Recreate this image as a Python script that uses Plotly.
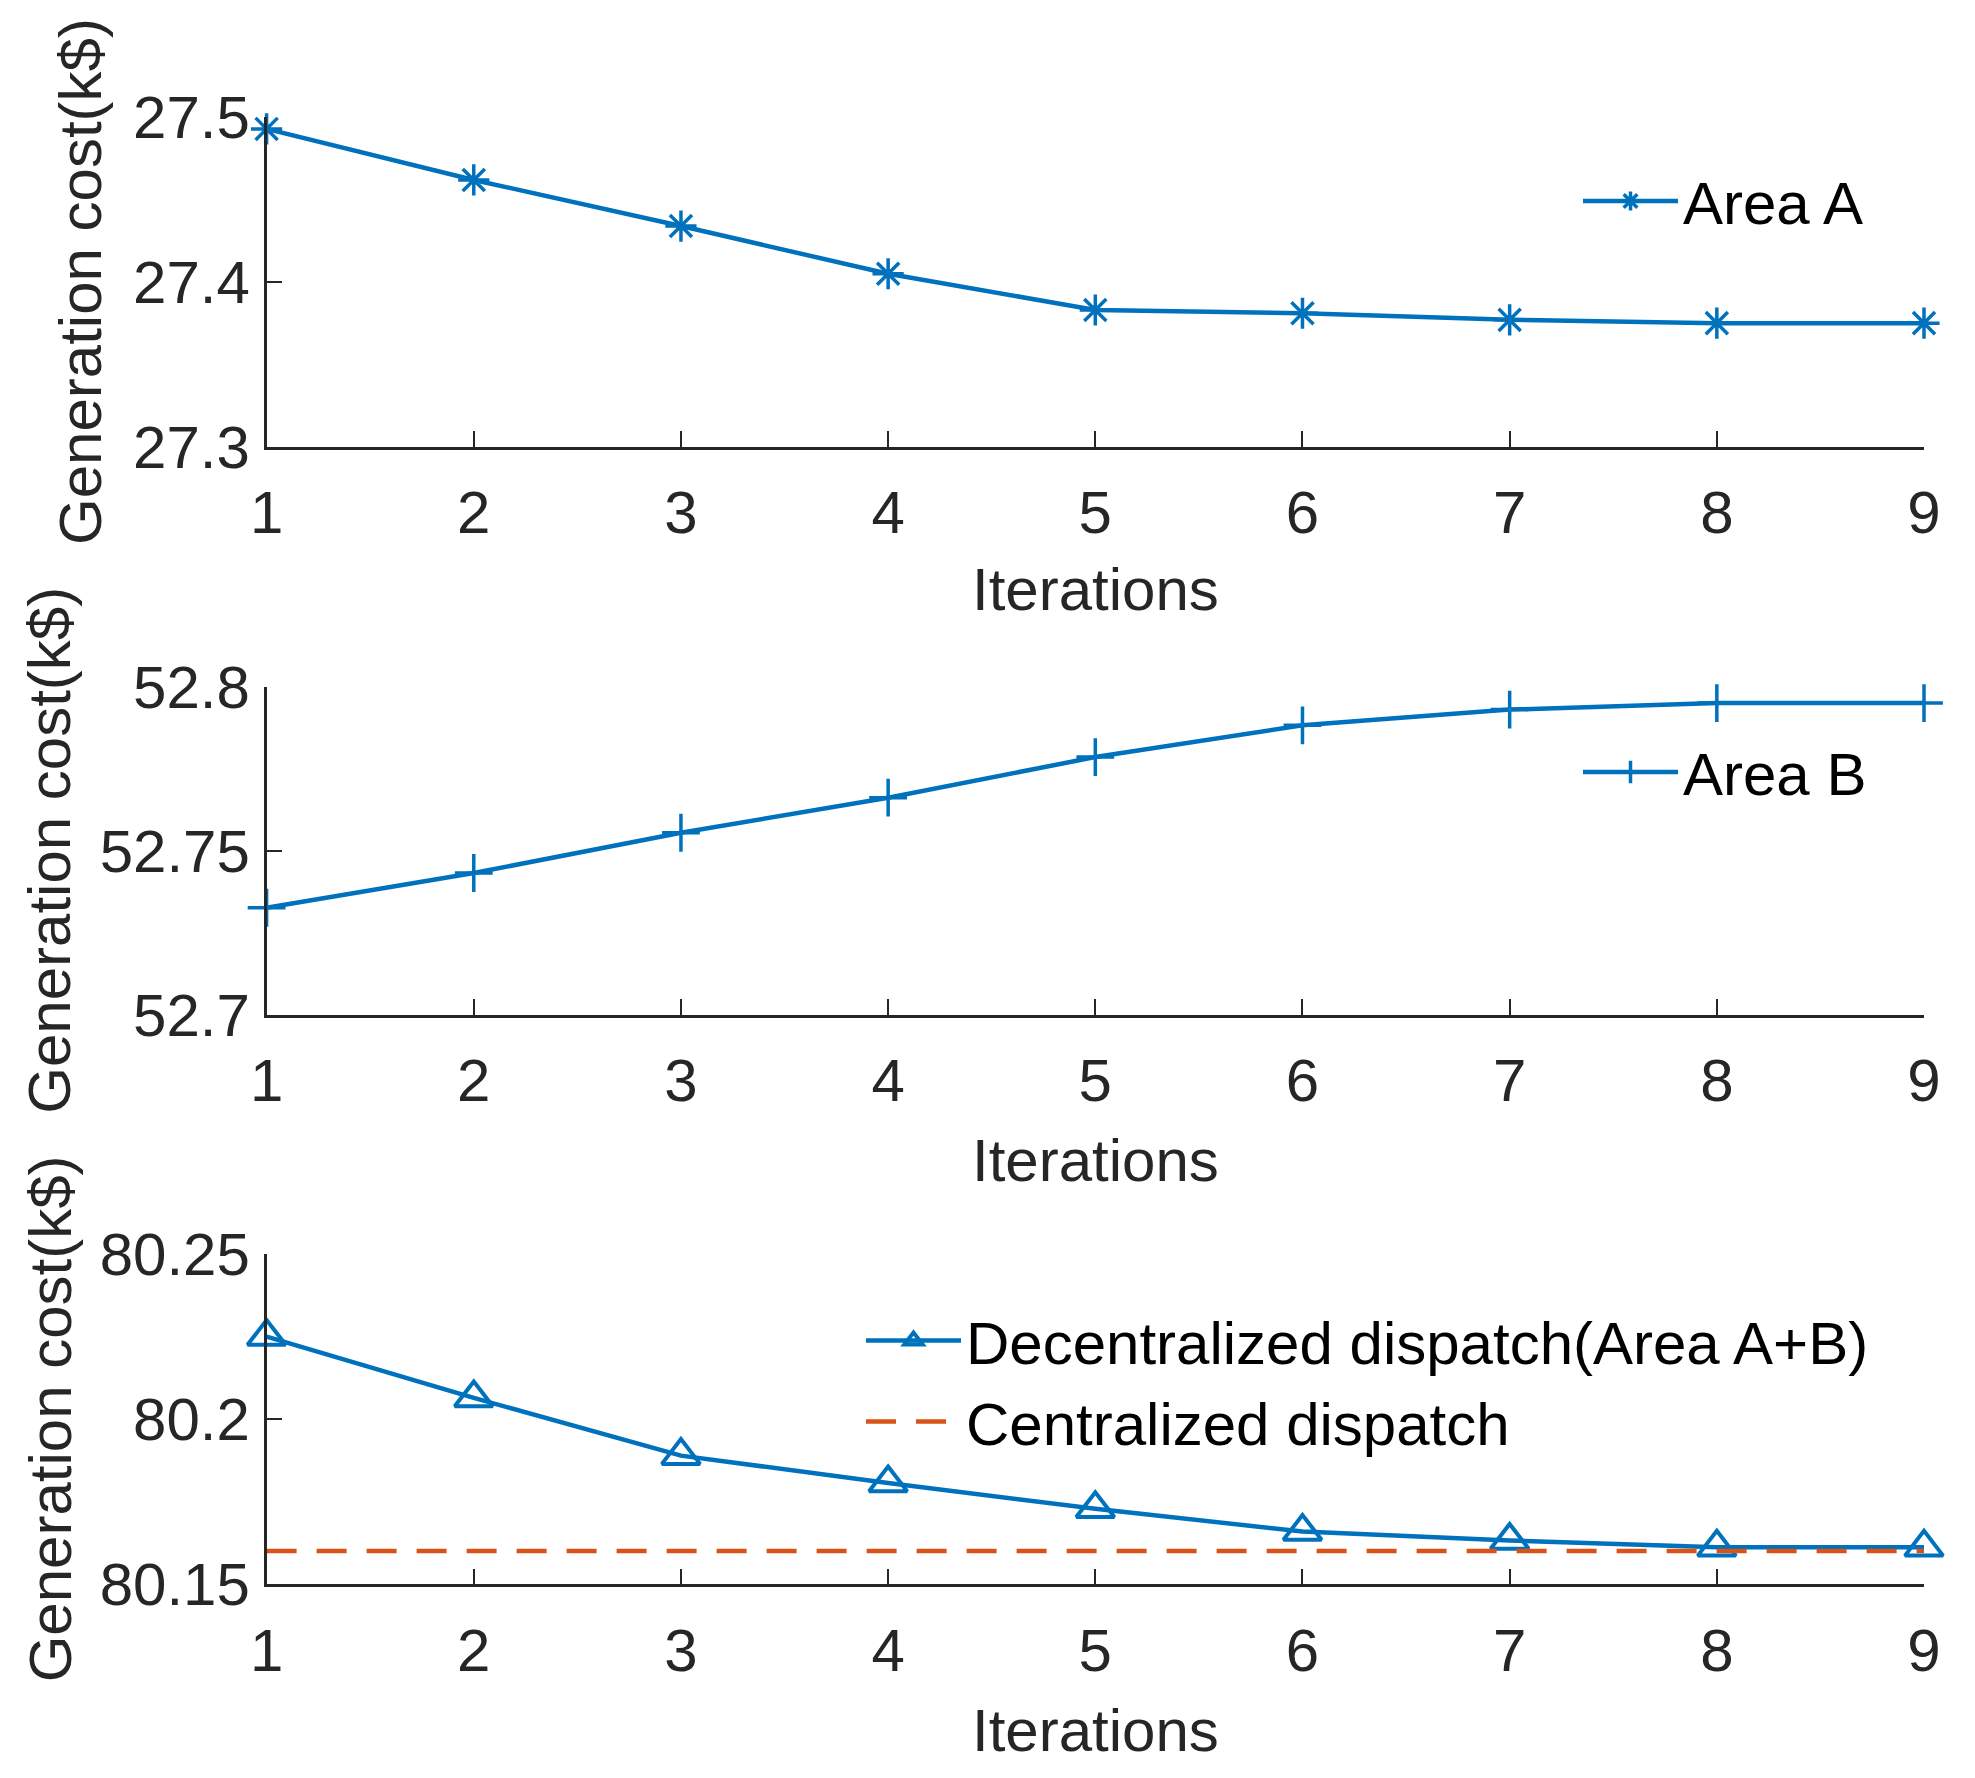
import plotly.graph_objects as go

iterations = [1, 2, 3, 4, 5, 6, 7, 8, 9]
area_a = [27.493, 27.462, 27.434, 27.405, 27.383, 27.381, 27.377, 27.375, 27.375]
area_b = [52.7326, 52.7432, 52.7555, 52.7662, 52.7786, 52.7883, 52.7931, 52.7951, 52.7951]
decentral = [80.2251, 80.2065, 80.1890, 80.1807, 80.1729, 80.1660, 80.1633, 80.1612, 80.1612]
central_value = 80.1601
central = [central_value] * len(iterations)

top_ticks = [27.3, 27.4, 27.5]
top_text = ["27.3", "27.4", "27.5"]
mid_ticks = [52.7, 52.75, 52.8]
mid_text = ["52.7", "52.75", "52.8"]
bot_ticks = [80.15, 80.2, 80.25]
bot_text = ["80.15", "80.2", "80.25"]

BLUE = "#0072BD"
ORANGE = "#D95319"
AX = "#262626"
FONT = "Liberation Sans, Arial, sans-serif"
FS = 60
W, H = 1975, 1778
OFF = 8  # page body margin offset

fig = go.Figure()
fig.add_trace(go.Scatter(x=iterations, y=area_a, name="Area A", mode="lines+markers",
                         line=dict(color=BLUE, width=4.5),
                         marker=dict(symbol="asterisk-open", size=26, line=dict(color=BLUE, width=3.5)),
                         cliponaxis=False, xaxis="x", yaxis="y", legend="legend"))
fig.add_trace(go.Scatter(x=iterations, y=area_b, name="Area B", mode="lines+markers",
                         line=dict(color=BLUE, width=4.5),
                         marker=dict(symbol="cross-thin-open", size=27, line=dict(color=BLUE, width=3.5)),
                         cliponaxis=False, xaxis="x2", yaxis="y2", legend="legend2"))
fig.add_trace(go.Scatter(x=iterations, y=decentral, name="Decentralized dispatch(Area A+B)",
                         mode="lines+markers", line=dict(color=BLUE, width=4.5),
                         marker=dict(symbol="triangle-up-open", size=33, line=dict(color=BLUE, width=4)),
                         cliponaxis=False, xaxis="x3", yaxis="y3", legend="legend3"))
fig.add_trace(go.Scatter(x=iterations, y=central, name="Centralized dispatch", mode="lines",
                         line=dict(color=ORANGE, width=4.5, dash="30px,20px"),
                         xaxis="x3", yaxis="y3", legend="legend3"))

xdom = [(266.6 - OFF) / W, (1924 - OFF) / W]
doms = [(117.4, 446.6), (687.0, 1014.5), (1254.4, 1584.3)]
ydoms = [[1 - (b - OFF) / H, 1 - (t - OFF) / H] for t, b in doms]

def xaxis_cfg(anchor):
    return dict(domain=xdom, anchor=anchor, range=[1, 9], tickvals=iterations,
                ticks="inside", ticklen=16, tickwidth=2, tickcolor=AX, automargin=False,
                showline=True, linecolor=AX, linewidth=2.5, showgrid=False, zeroline=False,
                tickfont=dict(family=FONT, size=FS, color=AX), ticklabelstandoff=12)

def yaxis_cfg(anchor, dom, rng, tv, tt):
    return dict(domain=dom, anchor=anchor, range=rng, tickvals=tv, ticktext=tt,
                ticks="inside", ticklen=16, tickwidth=2, tickcolor=AX, automargin=False,
                showline=True, linecolor=AX, linewidth=2.5, showgrid=False, zeroline=False,
                tickfont=dict(family=FONT, size=FS, color=AX), ticklabelstandoff=2)

legend_common = dict(font=dict(family=FONT, size=FS, color="black"), bgcolor="rgba(0,0,0,0)",
                     borderwidth=0, itemwidth=95, xanchor="left", yanchor="middle")

annotations = []
title_x = [80, 50, 50]
xt_y = [590, 1160, 1730]
for i, (ya, xa) in enumerate([("y", "x"), ("y2", "x2"), ("y3", "x3")]):
    annotations.append(dict(text="Generation cost(k$)", textangle=-90, showarrow=False,
                            xref="paper", x=(title_x[i] - OFF) / W, xanchor="center",
                            yref=ya + " domain", y=0.5, yanchor="middle",
                            font=dict(family=FONT, size=FS, color=AX)))
    annotations.append(dict(text="Iterations", showarrow=False,
                            xref=xa + " domain", x=0.5, xanchor="center",
                            yref="paper", y=1 - (xt_y[i] - OFF) / H, yanchor="middle",
                            font=dict(family=FONT, size=FS, color=AX)))

fig.update_layout(
    width=W, height=H, margin=dict(l=0, r=0, t=0, b=0, autoexpand=False),
    paper_bgcolor="white", plot_bgcolor="white",
    xaxis=xaxis_cfg("y"), yaxis=yaxis_cfg("x", ydoms[0], [27.3, 27.5], top_ticks, top_text),
    xaxis2=xaxis_cfg("y2"), yaxis2=yaxis_cfg("x2", ydoms[1], [52.7, 52.8], mid_ticks, mid_text),
    xaxis3=xaxis_cfg("y3"), yaxis3=yaxis_cfg("x3", ydoms[2], [80.15, 80.25], bot_ticks, bot_text),
    legend=dict(legend_common, x=1570 / W, y=1 - (201 - OFF) / H),
    legend2=dict(legend_common, x=1570 / W, y=1 - (772 - OFF) / H),
    legend3=dict(legend_common, x=853 / W, y=1 - (1381 - OFF) / H),
    annotations=annotations,
    showlegend=True,
)

fig.write_html("out.html")
